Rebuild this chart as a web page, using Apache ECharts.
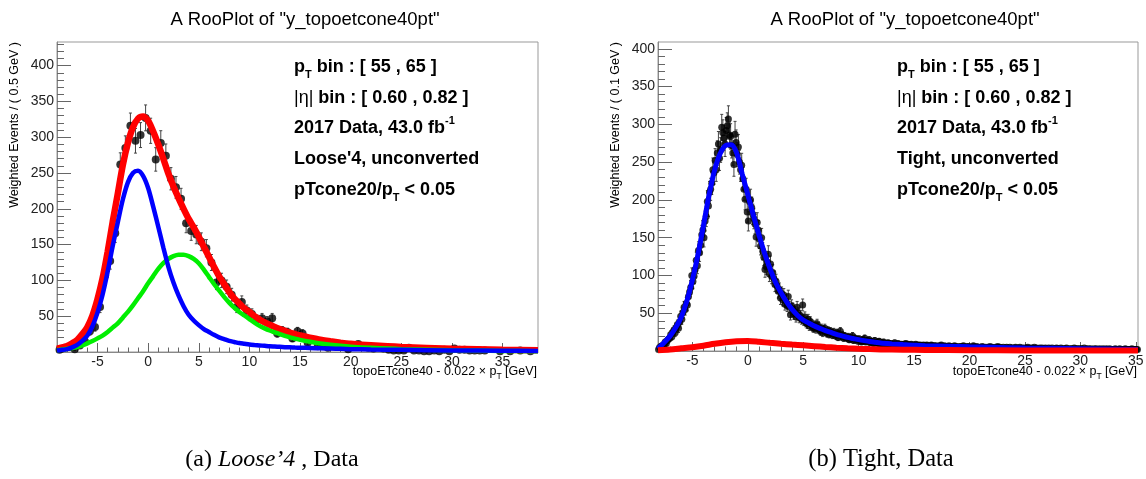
<!DOCTYPE html>
<html>
<head>
<meta charset="utf-8">
<script src="https://cdn.jsdelivr.net/npm/echarts@6/dist/echarts.min.js"></script>
<style>
html, body { margin: 0; padding: 0; background: #fff; }
#main { width: 1146px; height: 479px; }
</style>
</head>
<body>
<div id="main"></div>
<script>
// ---------- left panel : Loose'4, 0.5 GeV bins ----------
var leftStart = -8.75, leftBinW = 0.5;
var leftCounts = [
  3, 6, 7, 4, 9, 15, 29, 35, 63, 107,
  127, 166, 262, 285, 316, 295, 303, 327, 309, 269,
  292, 274, 242, 230, 214, 180, 169, 164, 154, 145,
  125, 97, 100, 91, 80, 63, 70, 58, 53, 45,
  47, 43, 47, 26, 30, 28, 19, 29, 26, 13,
  17, 8, 9, 6, 12, 11, 10, 4, 7, 11,
  8, 6, 5, 7, 5, 3, 2, 2, 2, 6,
  2, 2, 1, 1, 2, 1, 3, 1, 5, 3,
  3, 2, 2, 2, 2, 0, 0, 1, 0, 1,
  0, 2, 0, 1, 0
];
// fit curves
var leftFitX = [-9, -8.5, -8, -7.5, -7, -6.5, -6, -5.5, -5, -4.5,
  -4, -3.5, -3, -2.5, -2, -1.5, -1, -0.5, 0, 0.5,
  1, 1.5, 2, 2.5, 3, 3.5, 4, 4.5, 5, 5.5,
  6, 6.5, 7, 7.5, 8, 8.5, 9, 9.5, 10, 10.5,
  11, 11.5, 12, 12.5, 13, 13.5, 14, 14.5, 15,
  16, 17, 18, 19, 20, 22, 25, 30, 35, 38.5];
var leftTotal = [4.5, 6.4, 8.5, 12.2, 17, 25, 35, 51, 74, 103,
  140, 182, 221, 261, 292, 314, 326, 329, 323, 308,
  290, 270, 249, 231, 215, 200, 186, 174, 161, 147,
  133, 119, 106, 95, 84, 75, 68, 61, 56, 50,
  45.5, 41.5, 38, 35, 32, 29.5, 27, 25, 23,
  20, 17.2, 15, 13.1, 11.5, 9.3, 7, 4.7, 3.2, 2.5];
var leftSig = [2, 3, 4, 6.5, 10, 15.5, 23, 36, 55, 80,
  112, 148, 181, 213, 237, 250, 253, 246, 229, 203,
  175, 146, 119, 97, 79, 64, 52, 44, 37.5, 32,
  28, 24, 20.5, 18, 15.5, 14, 12.5, 11.5, 10.5, 9.8,
  9.2, 8.6, 8, 7.6, 7.2, 6.8, 6.5, 6.2, 6,
  5.6, 5.2, 4.8, 4.4, 4, 3.5, 3, 2.2, 1.7, 1.5];
var leftBkg = [2.5, 3.4, 4.5, 5.7, 7, 9.3, 12, 15.3, 19, 23,
  28, 34, 40, 48, 56, 65, 75, 85, 96, 106,
  116, 124, 130, 134, 136, 136, 134, 130, 124, 115,
  105, 95, 86, 77, 69, 62, 56, 51, 46, 41,
  36.5, 33, 30, 27.5, 25, 22.5, 20.5, 18.7, 17,
  14.3, 12, 10.2, 8.7, 7.5, 5.8, 4, 2.5, 1.5, 1];

// ---------- right panel : Tight, 0.1 GeV bins ----------
var rightStart = -8.05, rightBinW = 0.1;
var rightCounts = [
  2, 5, 4, 7, 6, 9, 12, 10, 14, 16,
  17, 22, 19, 25, 28, 24, 31, 35, 30, 38,
  46, 42, 51, 58, 55, 63, 61, 72, 78, 84,
  100, 92, 99, 108, 120, 113, 133, 130, 140, 154,
  160, 150, 172, 178, 198, 192, 210, 214, 222, 240,
  236, 252, 240, 262, 274, 255, 266, 296, 289, 282,
  274, 292, 298, 307, 286, 284, 272, 262, 247, 287,
  276, 260, 270, 250, 240, 246, 228, 214, 201, 214,
  184, 172, 198, 200, 190, 181, 175, 168, 151, 170,
  160, 148, 139, 150, 132, 124, 108, 112, 118, 128,
  102, 115, 99, 104, 96, 88, 92, 86, 79, 81,
  70, 76, 68, 74, 62, 66, 60, 72, 58, 48,
  60, 56, 49, 52, 45, 58, 50, 44, 47, 42,
  61, 40, 45, 38, 36, 42, 33, 39, 35, 31,
  30, 34, 29, 36, 32, 28, 26, 30, 24, 28,
  30, 25, 23, 27, 22, 26, 24, 21, 25, 22,
  20, 24, 18, 22, 26, 19, 21, 17, 20, 18,
  17, 19, 15, 18, 16, 20, 14, 17, 15, 16,
  13, 16, 14, 12, 15, 13, 17, 12, 14, 13,
  15, 11, 13, 12, 10, 14, 11, 12, 10, 13,
  9, 11, 10, 12, 9, 10, 8, 11, 10, 9,
  10, 8, 9, 11, 9, 8, 10, 9, 7, 9,
  8, 9, 7, 10, 8, 9, 7, 8, 9, 7,
  8, 7, 9, 6, 8, 7, 8, 6, 7, 8,
  6, 7, 8, 6, 7, 5, 8, 7, 6, 7,
  7, 6, 5, 7, 6, 8, 5, 6, 7, 5,
  6, 5, 7, 6, 5, 6, 4, 7, 6, 5,
  5, 6, 4, 6, 5, 7, 5, 4, 6, 5,
  6, 5, 4, 5, 7, 5, 4, 6, 5, 4,
  5, 4, 6, 5, 4, 5, 3, 5, 4, 6,
  4, 5, 4, 3, 5, 4, 6, 4, 5, 3,
  4, 5, 3, 4, 5, 4, 3, 5, 4, 4,
  3, 4, 5, 4, 3, 4, 5, 3, 4, 3,
  4, 3, 4, 5, 3, 4, 3, 4, 3, 5,
  3, 4, 3, 3, 4, 2, 4, 3, 3, 4,
  3, 2, 4, 3, 3, 4, 2, 3, 3, 4,
  3, 3, 2, 4, 3, 2, 3, 3, 4, 2,
  3, 2, 3, 3, 2, 4, 3, 2, 3, 3,
  2, 3, 3, 2, 4, 2, 3, 2, 3, 2,
  3, 2, 2, 3, 2, 3, 2, 2, 3, 2,
  2, 3, 2, 2, 3, 2, 2, 3, 2, 2,
  2, 2, 3, 2, 2, 2, 3, 2, 2, 2,
  2, 3, 2, 2, 2, 2, 2, 3, 2, 2,
  2, 2, 2
];
var rightFitX = [-8.1, -7.5, -7, -6.5, -6, -5.5, -5, -4.5, -4, -3.5,
  -3, -2.5, -2, -1.5, -1, -0.5, 0, 0.5, 1, 1.5,
  2, 2.5, 3, 3.5, 4, 4.5, 5, 5.5, 6, 6.5,
  7, 7.5, 8, 8.5, 9, 9.5, 10, 10.5, 11, 11.5,
  12, 13, 14, 15, 16, 18, 20, 22, 25, 30, 35.2];
var rightTotal = [3, 12, 20, 31, 45, 66, 94, 127, 166, 206,
  239, 261, 272, 273, 262, 234, 207, 180, 154, 130,
  109, 91, 77, 65, 55, 47, 41, 37, 33, 30,
  27, 24.5, 22, 20, 18, 16.5, 15, 13.7, 12.5, 11.5,
  10.5, 9.4, 8.5, 7.7, 7, 6.2, 5.5, 4.9, 4, 3, 2];
var rightBkgX = [-8.1, -7, -6, -5, -4, -3, -2, -1, 0, 1, 2, 3, 4, 5, 6, 7, 8, 9, 10, 11, 12, 14, 16, 20, 25, 30, 35.2];
var rightBkg = [1, 2, 3.5, 5, 7, 9.5, 11.5, 12.8, 13.2, 12.2, 10.8, 9.6, 8.5, 7.5, 6.4, 5.3, 4.4, 3.6, 3, 2.5, 2.1, 1.7, 1.4, 1, 0.8, 0.6, 0.5];

// tick positions
var xMajorLeft = [-5, 0, 5, 10, 15, 20, 25, 30, 35];
var xMajorRight = [-5, 0, 5, 10, 15, 20, 25, 30, 35];
var yMajor = [50, 100, 150, 200, 250, 300, 350, 400];

var FONT = '"Liberation Sans", Arial, Helvetica, sans-serif';
var SERIF = '"Liberation Serif", "Times New Roman", serif';

function binPoints(start, w, counts) {
  var pts = [], errs = [];
  for (var i = 0; i < counts.length; i++) {
    if (counts[i] <= 0) continue;
    var x = start + i * w;
    pts.push([x, counts[i]]);
    errs.push([x, counts[i], Math.sqrt(counts[i])]);
  }
  return { pts: pts, errs: errs };
}
function zip(xs, ys) {
  return xs.map(function (x, i) { return [x, ys[i]]; });
}
function minorTicks(lo, hi, step, major) {
  var out = [];
  for (var v = Math.ceil(lo / step) * step; v <= hi + 1e-9; v += step) {
    var r = Math.round(v * 1000) / 1000;
    if (major.indexOf(r) < 0) out.push(r);
  }
  return out;
}

function errRender(params, api) {
  var x = api.value(0), y = api.value(1), e = api.value(2);
  var lo = api.coord([x, y - e]), hi = api.coord([x, y + e]);
  var c = 1.5;
  var st = { stroke: '#444', lineWidth: 1 };
  return {
    type: 'group',
    children: [
      { type: 'line', shape: { x1: lo[0], y1: lo[1], x2: hi[0], y2: hi[1] }, style: st },
      { type: 'line', shape: { x1: lo[0] - c, y1: lo[1], x2: lo[0] + c, y2: lo[1] }, style: st },
      { type: 'line', shape: { x1: hi[0] - c, y1: hi[1], x2: hi[0] + c, y2: hi[1] }, style: st }
    ]
  };
}

function xAxes(grid, min, max, major) {
  return [
    {
      gridIndex: grid, type: 'value', position: 'bottom', min: min, max: max,
      axisLine: { show: true, onZero: false, lineStyle: { color: '#888', width: 1 } },
      axisTick: { show: true, inside: true, length: 9, customValues: major, lineStyle: { color: '#666' } },
      axisLabel: { show: true, customValues: major, margin: 3, fontFamily: FONT, fontSize: 14, color: '#222' },
      splitLine: { show: false }
    },
    {
      gridIndex: grid, type: 'value', position: 'bottom', min: min, max: max,
      axisLine: { show: false, onZero: false },
      axisTick: { show: true, inside: true, length: 4.5, customValues: minorTicks(min, max, 1, major), lineStyle: { color: '#666' } },
      axisLabel: { show: false },
      splitLine: { show: false }
    }
  ];
}
function yAxes(grid, max) {
  return [
    {
      gridIndex: grid, type: 'value', position: 'left', min: 0, max: max,
      axisLine: { show: true, onZero: false, lineStyle: { color: '#888', width: 1 } },
      axisTick: { show: true, inside: true, length: 14, customValues: yMajor, lineStyle: { color: '#666' } },
      axisLabel: { show: true, customValues: yMajor, margin: 3, fontFamily: FONT, fontSize: 14, color: '#222' },
      splitLine: { show: false }
    },
    {
      gridIndex: grid, type: 'value', position: 'left', min: 0, max: max,
      axisLine: { show: false, onZero: false },
      axisTick: { show: true, inside: true, length: 7, customValues: minorTicks(0, max, 10, yMajor), lineStyle: { color: '#666' } },
      axisLabel: { show: false },
      splitLine: { show: false }
    }
  ];
}

var L = binPoints(leftStart, leftBinW, leftCounts);
var R = binPoints(rightStart, rightBinW, rightCounts);

function curve(xi, yi, data, color, width) {
  return {
    type: 'line', xAxisIndex: xi, yAxisIndex: yi, data: data,
    smooth: 0.3, showSymbol: false, symbol: 'none',
    lineStyle: { color: color, width: width }, clip: true, silent: true
  };
}

var rich = {
  b: { fontFamily: FONT, fontWeight: 'bold', fontSize: 18, lineHeight: 26, fill: '#000' },
  n: { fontFamily: FONT, fontWeight: 'normal', fontSize: 18, lineHeight: 26, fill: '#000' },
  sub: { fontFamily: FONT, fontWeight: 'bold', fontSize: 11, lineHeight: 11, verticalAlign: 'bottom', fill: '#000' },
  sup: { fontFamily: FONT, fontWeight: 'bold', fontSize: 11, lineHeight: 11, verticalAlign: 'top', fill: '#000' }
};
function statLines(x, selection) {
  var lines = [
    '{b|p}{sub|T}{b| bin : [ 55 , 65 ]}',
    '{n||\u03b7|}{b| bin : [ 0.60 , 0.82 ]}',
    '{b|2017 Data, 43.0 fb}{sup|-1}',
    '{b|' + selection + '}',
    '{b|pTcone20/p}{sub|T}{b| < 0.05}'
  ];
  var ys = [67, 98, 128, 159, 190];
  return lines.map(function (t, i) {
    return { type: 'text', x: x, y: ys[i], silent: true,
      style: { text: t, rich: rich, verticalAlign: 'middle', align: 'left' } };
  });
}
function axisTexts(frameRight, yTitleX, binLabel) {
  return [
    { type: 'text', x: frameRight, y: 372, silent: true,
      style: { text: '{t|topoETcone40 - 0.022 \u00d7 p}{s|T}{t| [GeV]}', align: 'right', verticalAlign: 'middle',
        rich: { t: { fontFamily: FONT, fontSize: 12.5, lineHeight: 18, fill: '#000' },
                s: { fontFamily: FONT, fontSize: 8.5, lineHeight: 8, verticalAlign: 'bottom', fill: '#000' } } } },
    { type: 'text', x: yTitleX, y: 42, rotation: Math.PI / 2, silent: true,
      style: { text: 'Weighted Events / ( ' + binLabel + ' GeV )', align: 'right', verticalAlign: 'middle',
        fontFamily: FONT, fontSize: 12.5, fill: '#000' } }
  ];
}

var chart = echarts.init(document.getElementById('main'), null, { renderer: 'canvas' });
chart.setOption({
  animation: false,
  backgroundColor: '#fff',
  grid: [
    { left: 57, top: 42, width: 481, height: 310, show: true, borderColor: '#999', borderWidth: 1, outerBoundsMode: 'none' },
    { left: 658, top: 42, width: 480, height: 309, show: true, borderColor: '#999', borderWidth: 1, outerBoundsMode: 'none' }
  ],
  xAxis: xAxes(0, -9, 38.5, xMajorLeft).concat(xAxes(1, -8.1, 35.2, xMajorRight)),
  yAxis: yAxes(0, 433).concat(yAxes(1, 409)),
  title: [
    { text: 'A RooPlot of "y_topoetcone40pt"', left: 300, top: 5, textAlign: 'center',
      textStyle: { fontFamily: FONT, fontSize: 18.5, fontWeight: 'normal', color: '#000' } },
    { text: 'A RooPlot of "y_topoetcone40pt"', left: 900, top: 5, textAlign: 'center',
      textStyle: { fontFamily: FONT, fontSize: 18.5, fontWeight: 'normal', color: '#000' } }
  ],
  graphic: statLines(294, "Loose'4, unconverted")
    .concat(statLines(897, 'Tight, unconverted'))
    .concat(axisTexts(537, 15, '0.5'))
    .concat(axisTexts(1137, 616, '0.1'))
    .concat([
      { type: 'text', x: 272, y: 460, silent: true,
        style: { text: '{r|(a) }{i|Loose\u20194}{r| , Data}', align: 'center', verticalAlign: 'middle',
          rich: { r: { fontFamily: SERIF, fontSize: 24, fill: '#000' },
                  i: { fontFamily: SERIF, fontStyle: 'italic', fontSize: 24, fill: '#000' } } } },
      { type: 'text', x: 881, y: 460, silent: true,
        style: { text: '(b) Tight, Data', align: 'center', verticalAlign: 'middle',
          fontFamily: SERIF, fontSize: 24.5, fill: '#000' } }
    ]),
  series: [
    curve(0, 0, zip(leftFitX, leftTotal), '#ff0000', 6.5),
    curve(0, 0, zip(leftFitX, leftBkg), '#00ee00', 4.5),
    curve(0, 0, zip(leftFitX, leftSig), '#0000ff', 4.5),
    { type: 'custom', xAxisIndex: 0, yAxisIndex: 0, data: L.errs, renderItem: errRender, clip: true, silent: true },
    { type: 'scatter', xAxisIndex: 0, yAxisIndex: 0, data: L.pts, symbol: 'circle', symbolSize: 8,
      itemStyle: { color: '#000' }, clip: true, silent: true },

    curve(2, 2, zip(rightFitX, rightTotal), '#0000ff', 5),
    curve(2, 2, zip(rightBkgX, rightBkg), '#ff0000', 6),
    { type: 'custom', xAxisIndex: 2, yAxisIndex: 2, data: R.errs, renderItem: errRender, clip: true, silent: true },
    { type: 'scatter', xAxisIndex: 2, yAxisIndex: 2, data: R.pts, symbol: 'circle', symbolSize: 7,
      itemStyle: { color: '#000' }, clip: true, silent: true, large: false }
  ]
});
</script>
</body>
</html>
